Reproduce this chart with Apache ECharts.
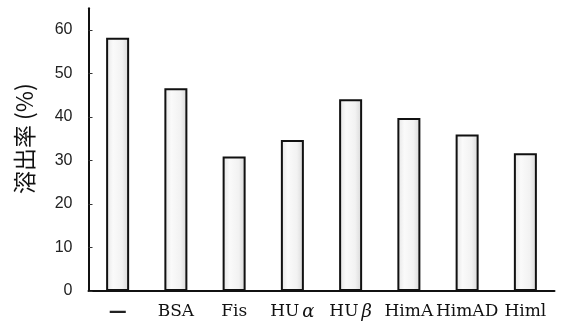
<!DOCTYPE html>
<html>
<head>
<meta charset="utf-8">
<script src="https://cdn.jsdelivr.net/npm/echarts@6/dist/echarts.min.js"></script>
<style>html,body{margin:0;padding:0;background:#fff;}#c{width:561px;height:323px;}</style>
</head>
<body>
<div id="c"></div>
<script>
const categories = ['{d|—}', 'BSA', 'Fis', 'HU{g|α}', 'HU{g|β}', 'HimA', 'HimAD', 'Himl'];
const values = [58.2, 46.6, 30.9, 34.7, 44.1, 39.8, 36.0, 31.7];
const yTicks = [0, 10, 20, 30, 40, 50, 60];

const chart = echarts.init(document.getElementById('c'), null, {renderer: 'canvas'});
chart.setOption({
  animation: false,
  backgroundColor: '#fff',
  grid: {left: 88.5, right: 6.5, top: 8.3, bottom: 32},
  xAxis: {
    type: 'category',
    data: categories,
    axisLine: {lineStyle: {color: '#111', width: 2}},
    axisTick: {show: false},
    axisLabel: {
      interval: 0,
      hideOverlap: false,
      color: '#111', fontFamily: '"DejaVu Serif", serif', fontSize: 17, margin: 12,
      rich: {
        g: {fontFamily: '"DejaVu Serif", serif', fontStyle: 'italic', fontSize: 18, padding: [0, 0, 0, 3], color: '#111'},
        d: {fontFamily: '"DejaVu Sans", sans-serif', fontWeight: 'bold', fontSize: 18, color: '#222'}
      }
    }
  },
  yAxis: {
    type: 'value',
    min: 0, max: 65,
    name: '溶出率 (%)',
    nameLocation: 'middle',
    nameRotate: 90,
    nameGap: 53,
    nameTextStyle: {color: '#111', fontSize: 23, fontFamily: '"Noto Sans CJK JP", sans-serif', padding: [0, 0, 0, 22]},
    axisLine: {show: true, lineStyle: {color: '#111', width: 2}},
    axisTick: {show: true, inside: true, length: 4, lineStyle: {color: '#333'}, customValues: yTicks},
    axisLabel: {color: '#222', fontSize: 16, fontFamily: '"Liberation Sans", Arial, sans-serif', margin: 16, customValues: yTicks},
    splitLine: {show: false}
  },
  series: [{
    type: 'bar',
    data: values,
    barWidth: 23,
    itemStyle: {
      color: new echarts.graphic.LinearGradient(0, 0, 1, 0, [
        {offset: 0, color: '#e4e4e4'},
        {offset: 0.3, color: '#fafafa'},
        {offset: 0.7, color: '#f2f2f2'},
        {offset: 1, color: '#d6d6d6'}
      ]),
      borderColor: '#111',
      borderWidth: 2
    }
  }]
});
</script>
</body>
</html>
